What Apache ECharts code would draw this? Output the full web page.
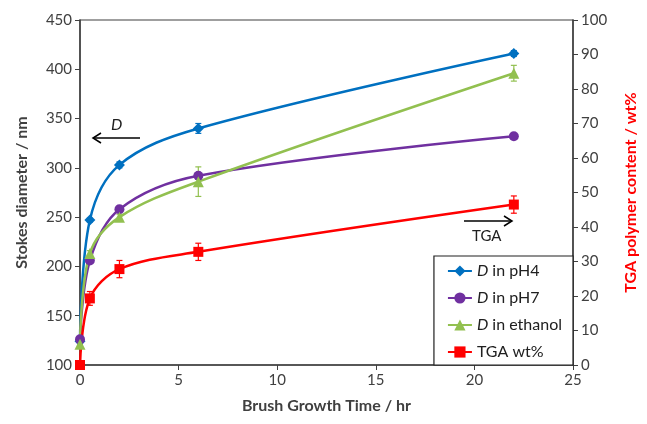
<!DOCTYPE html>
<html><head><meta charset="utf-8">
<script src="https://cdn.jsdelivr.net/npm/echarts@6/dist/echarts.min.js"></script>
<style>html,body{margin:0;padding:0;background:#fff}#c{width:647px;height:424px}</style>
</head><body><div id="c"></div>
<script>
const times = [0, 0.5, 2, 6, 22];
const dPH4 = [124, 247, 303, 340, 416];
const dPH7 = [126, 206, 258, 292, 332];
const dEth = [121, 213, 250, 286, 396];
const tga = [0, 19.3, 27.8, 32.8, 46.5];
const errPH4 = [0, 2, 3, 5, 3];
const errPH7 = [0, 2, 3, 3, 2];
const errEth = [0, 3, 3, 15, 8];
const errTGA = [0, 2, 2.5, 2.5, 2.5];

const FONT = 'Lato, "Open Sans", sans-serif';
const cBlue = '#0070C0', cPurple = '#7030A0', cGreen = '#92C050', cRed = '#FF0000';

function errSeries(vals, errs, color, yIndex) {
  return {
    type: 'custom', yAxisIndex: yIndex, silent: true, z: 1,
    data: times.map((t, i) => [t, vals[i] - errs[i], vals[i] + errs[i]]),
    renderItem: function (params, api) {
      const lo = api.coord([api.value(0), api.value(1)]);
      const hi = api.coord([api.value(0), api.value(2)]);
      const w = 3;
      const st = { stroke: color, lineWidth: 1.2 };
      return { type: 'group', children: [
        { type: 'line', shape: { x1: lo[0], y1: lo[1], x2: hi[0], y2: hi[1] }, style: st },
        { type: 'line', shape: { x1: lo[0]-w, y1: lo[1], x2: lo[0]+w, y2: lo[1] }, style: st },
        { type: 'line', shape: { x1: hi[0]-w, y1: hi[1], x2: hi[0]+w, y2: hi[1] }, style: st }
      ]};
    }
  };
}
function lineSeries(name, vals, color, symbol, size, yIndex) {
  return {
    name: name, type: 'line', yAxisIndex: yIndex, smooth: 0.35,
    data: times.map((t, i) => [t, vals[i]]),
    symbol: symbol, symbolSize: size, showSymbol: true,
    lineStyle: { color: color, width: 2.5 },
    itemStyle: { color: color },
    z: 3
  };
}

const chart = echarts.init(document.getElementById('c'));
const axisLabel = { color: '#404040', fontSize: 15, fontFamily: FONT };
const axisLine = { show: true, lineStyle: { color: '#404040', width: 1.5 } };
chart.setOption({
  animation: false,
  grid: { left: 80, right: 74, top: 20, bottom: 59, show: true, borderColor: '#404040', borderWidth: 1.2 },
  xAxis: {
    type: 'value', min: 0, max: 25, interval: 5,
    name: 'Brush Growth Time / hr', nameLocation: 'middle', nameGap: 33,
    nameTextStyle: { fontSize: 16, fontWeight: 'bold', color: '#404040', fontFamily: FONT },
    axisLine: axisLine, axisTick: { show: true, inside: false, length: 5, lineStyle: { color: '#404040' } },
    axisLabel: axisLabel, splitLine: { show: false }
  },
  yAxis: [{
    type: 'value', min: 100, max: 450, interval: 50,
    name: 'Stokes diameter / nm', nameLocation: 'middle', nameGap: 50,
    nameTextStyle: { fontSize: 16, fontWeight: 'bold', color: '#404040', fontFamily: FONT },
    axisLine: axisLine, axisTick: { show: true, length: 5, lineStyle: { color: '#404040' } },
    axisLabel: axisLabel, splitLine: { show: false }
  }, {
    type: 'value', min: 0, max: 100, interval: 10, position: 'right',
    name: 'TGA polymer content / wt%', nameLocation: 'middle', nameGap: 50, nameRotate: 90,
    nameTextStyle: { fontSize: 16, fontWeight: 'bold', color: cRed, fontFamily: FONT },
    axisLine: axisLine, axisTick: { show: true, length: 5, lineStyle: { color: '#404040' } },
    axisLabel: axisLabel, splitLine: { show: false }
  }],
  legend: {
    orient: 'vertical', right: 74, bottom: 59, left: 'auto',
    backgroundColor: '#fff', borderColor: '#202020', borderWidth: 1.2,
    padding: [7, 11, 5, 13], itemGap: 11, itemWidth: 24, itemHeight: 14,
    textStyle: { fontSize: 16, color: '#202020', fontFamily: FONT,
      rich: { i: { fontStyle: 'italic', fontSize: 16, fontFamily: FONT, color: '#202020' } } },
    formatter: function (n) { return n.startsWith('D ') ? '{i|D}' + n.slice(1) : n; },
    data: ['D in pH4', 'D in pH7', 'D in ethanol', 'TGA wt%']
  },
  series: [
    errSeries(dPH4, errPH4, cBlue, 0),
    errSeries(dPH7, errPH7, cPurple, 0),
    errSeries(dEth, errEth, cGreen, 0),
    errSeries(tga, errTGA, cRed, 1),
    lineSeries('D in pH4', dPH4, cBlue, 'diamond', 11, 0),
    lineSeries('D in pH7', dPH7, cPurple, 'circle', 10, 0),
    lineSeries('D in ethanol', dEth, cGreen, 'triangle', 11, 0),
    lineSeries('TGA wt%', tga, cRed, 'rect', 10, 1)
  ],
  graphic: [
    { type: 'line', shape: { x1: 93, y1: 138, x2: 140, y2: 138 }, style: { stroke: '#000', lineWidth: 1.5 } },
    { type: 'polyline', shape: { points: [[101, 133], [93, 138], [101, 143]] }, style: { stroke: '#000', lineWidth: 1.5, fill: null } },
    { type: 'text', x: 111, y: 117, style: { text: 'D', font: 'italic 16px ' + FONT, fill: '#202020' } },
    { type: 'line', shape: { x1: 464, y1: 221, x2: 512, y2: 221 }, style: { stroke: '#000', lineWidth: 1.5 } },
    { type: 'polyline', shape: { points: [[504, 216], [512, 221], [504, 226]] }, style: { stroke: '#000', lineWidth: 1.5, fill: null } },
    { type: 'text', x: 472, y: 229, style: { text: 'TGA', font: '15px ' + FONT, fill: '#202020' } }
  ]
});
</script></body></html>
